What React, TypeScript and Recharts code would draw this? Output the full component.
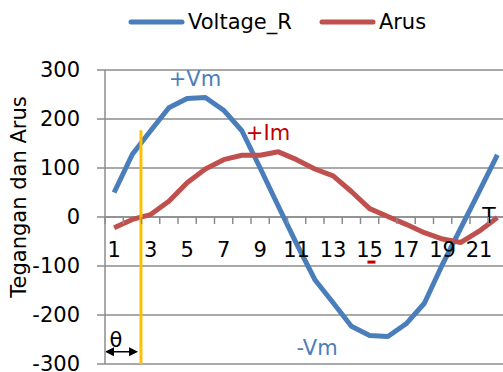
import React from 'react';
import { LineChart, Line, XAxis, YAxis, CartesianGrid, ReferenceLine, ReferenceDot } from 'recharts';

// sampling points (one period of the waveform)
const tPoints = [1, 2, 3, 4, 5, 6, 7, 8, 9, 10, 11, 12, 13, 14, 15, 16, 17, 18, 19, 20, 21, 22];
const voltageR = [50, 128, 176, 223, 242, 244, 218, 176, 100, 22, -55, -128, -175, -223, -242, -244, -218, -176, -96, -22, 52, 127];
const arus = [-22, -5, 5, 32, 70, 98, 117, 126, 126, 133, 117, 98, 84, 52, 17, 1, -15, -32, -45, -52, -29, -1];

const xLabels = [1, 3, 5, 7, 9, 11, 13, 15, 17, 19, 21];
const yTicks = [-300, -200, -100, 0, 100, 200, 300];

const seriesNames = ['Voltage_R', 'Arus'];
const seriesColors = ['#4a7ebb', '#c0504d'];

const FONT = '"DejaVu Sans", sans-serif';
const GRID = '#8c8c8c';

const CHART_W = 508;
const CHART_H = 372;
const MARGIN = { top: 70, right: 1.5, bottom: 0, left: 0 };
const X_AXIS_H = 8;
const Y_MIN = -300;
const Y_MAX = 300;
const PLOT_H = CHART_H - MARGIN.top - MARGIN.bottom - X_AXIS_H;
// pixel row of the value 0, where the category axis crosses
const ZERO_Y = MARGIN.top + (PLOT_H * Y_MAX) / (Y_MAX - Y_MIN);

const data = tPoints.map((t, i) => ({ t, v: voltageR[i], i: arus[i] }));

// tick marks sit between categories, labels on every other category
const xTicks = [...tPoints.map((t) => t - 0.5), ...xLabels].sort((a, b) => a - b);

const XTick = ({ x, payload }: any) => {
  const v = payload.value;
  if (Number.isInteger(v)) {
    return (
      <text x={x} y={ZERO_Y + 33} textAnchor="middle" dominantBaseline="central"
        style={{ fontSize: 21, fill: '#000', fontFamily: FONT }}>
        {v}
      </text>
    );
  }
  return <line x1={x} x2={x} y1={ZERO_Y} y2={ZERO_Y + 7} stroke={GRID} strokeWidth={1.5} />;
};

const textDot = (label: string, color: string, size = 21) => (p: any) => (
  <text x={p.cx} y={p.cy} textAnchor="middle" dominantBaseline="central"
    style={{ fontSize: size, fill: color, fontFamily: FONT }}>
    {label}
  </text>
);

const arrowShape = (p: any) => {
  const { x1, y1, x2, y2 } = p;
  return (
    <g>
      <line x1={x1 + 6} y1={y1} x2={x2 - 6} y2={y2} stroke="#000" strokeWidth={1.5} />
      <path d={`M${x1},${y1} l9,-4.5 v9 z`} fill="#000" />
      <path d={`M${x2},${y2} l-9,-4.5 v9 z`} fill="#000" />
    </g>
  );
};

const yTitle = 'Tegangan dan Arus';

const YTitle = ({ viewBox }: any) => {
  const cx = viewBox.x + 19;
  const cy = viewBox.y + viewBox.height / 2 - 20;
  return (
    <text x={cx} y={cy} transform={`rotate(-90 ${cx} ${cy})`} textAnchor="middle" dominantBaseline="central"
      style={{ fontSize: 21, fill: '#000', fontFamily: FONT }}>
      {yTitle}
    </text>
  );
};

export default function App() {
  return (
    <div style={{ position: 'absolute', left: 0, top: 0, width: 503, height: 372, overflow: 'hidden', background: '#fff' }}>
      <div style={{ position: 'absolute', left: 128, top: 10, display: 'flex', alignItems: 'center', height: 24, fontFamily: FONT, fontSize: 21, color: '#000', whiteSpace: 'nowrap' }}>
        {seriesNames.map((name, k) => (
          <div key={name} style={{ display: 'flex', alignItems: 'center', marginRight: k === 0 ? 27 : 0 }}>
            <svg width={57} height={10}>
              <line x1={3} y1={5} x2={54} y2={5} stroke={seriesColors[k]} strokeWidth={5} strokeLinecap="round" />
            </svg>
            <span style={{ marginLeft: 3 }}>{name}</span>
          </div>
        ))}
      </div>
      <LineChart width={CHART_W} height={CHART_H} data={data} margin={MARGIN}>
        <CartesianGrid vertical={false} stroke={GRID} strokeWidth={1.5} />
        <XAxis dataKey="t" type="number" domain={[0.5, 22.5]} ticks={xTicks} interval={0}
          axisLine={false} tickLine={false} height={X_AXIS_H} tick={<XTick />} />
        <YAxis domain={[Y_MIN, Y_MAX]} ticks={yTicks} interval={0} width={105}
          stroke={GRID} tickSize={8} tickMargin={17}
          axisLine={{ stroke: GRID, strokeWidth: 1.5 }} tickLine={{ stroke: GRID, strokeWidth: 1.5 }}
          tick={{ fontSize: 21, fill: '#000', fontFamily: FONT }}
          label={{ value: yTitle, content: <YTitle /> }} />
        <ReferenceLine y={0} stroke={GRID} strokeWidth={1.5} />
        <Line dataKey="v" name={seriesNames[0]} stroke={seriesColors[0]} strokeWidth={5} dot={false}
          strokeLinejoin="round" isAnimationActive={false} />
        <Line dataKey="i" name={seriesNames[1]} stroke={seriesColors[1]} strokeWidth={5} dot={false}
          strokeLinejoin="round" isAnimationActive={false} />
        <ReferenceLine segment={[{ x: 2.47, y: 177 }, { x: 2.47, y: -300 }]} stroke="#ffc000" strokeWidth={3} />
        <ReferenceLine segment={[{ x: 0.5, y: -275 }, { x: 2.31, y: -275 }]} shape={arrowShape} />
        <ReferenceDot x={1.1} y={-250} r={0} shape={textDot('θ', '#000')} />
        <ReferenceDot x={5.43} y={281} r={0} shape={textDot('+Vm', '#4a7ebb')} />
        <ReferenceDot x={9.43} y={171} r={0} shape={textDot('+Im', '#c00000')} />
        <ReferenceDot x={12.12} y={-267} r={0} shape={textDot('-Vm', '#4a7ebb')} />
        <ReferenceDot x={21.54} y={4} r={0} shape={textDot('T', '#000', 22)} />
        <ReferenceDot x={15.1} y={-92} r={0}
          shape={(p: any) => <rect x={p.cx - 4} y={p.cy - 1.5} width={8} height={3} fill="#c00000" />} />
      </LineChart>
    </div>
  );
}
